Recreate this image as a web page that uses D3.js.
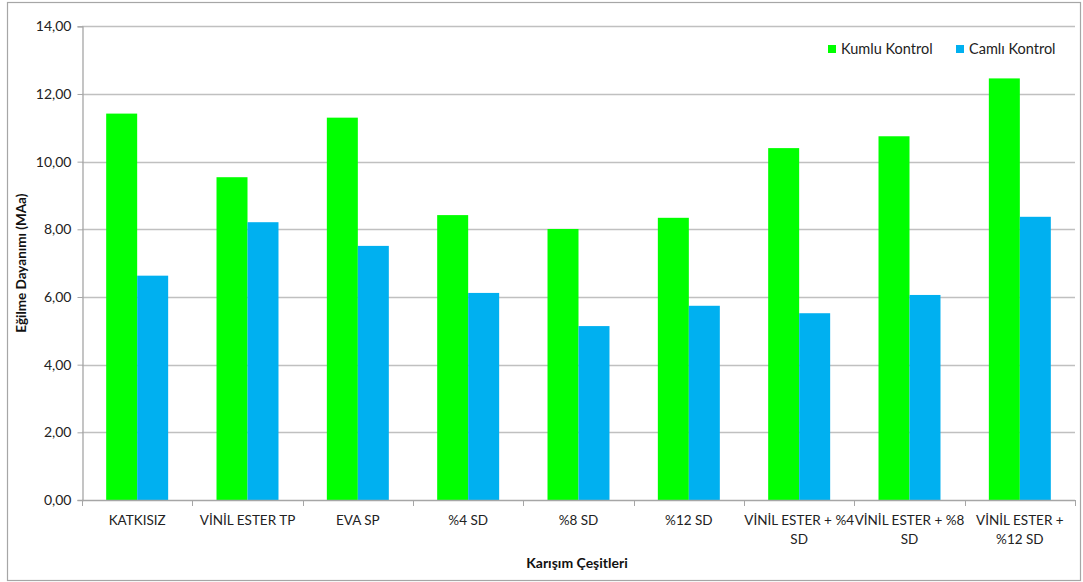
<!DOCTYPE html>
<html>
<head>
<meta charset="utf-8">
<script src="https://cdn.jsdelivr.net/npm/d3@7"></script>
<style>
  html, body { margin: 0; padding: 0; background: #fff; }
  svg { display: block; font-family: Lato, "Open Sans", sans-serif; }
</style>
</head>
<body>
<svg id="chart" width="1083" height="582"></svg>
<script>
// Mixture types (line breaks follow the wrapped axis labels)
const categories = [
  "KATKISIZ",
  "VİNİL ESTER TP",
  "EVA SP",
  "%4 SD",
  "%8 SD",
  "%12 SD",
  "VİNİL ESTER + %4\nSD",
  "VİNİL ESTER + %8\nSD",
  "VİNİL ESTER +\n%12 SD"
];
const seriesNames = ["Kumlu Kontrol", "Camlı Kontrol"];
const kumluKontrol = [11.42, 9.54, 11.30, 8.42, 8.01, 8.34, 10.40, 10.75, 12.46];
const camliKontrol = [6.63, 8.21, 7.51, 6.12, 5.14, 5.74, 5.52, 6.06, 8.37];
const yTicks = [0, 2, 4, 6, 8, 10, 12, 14];
const colors = ["#00ff00", "#00b0f0"];

const svg = d3.select("#chart");
const plot = { left: 82, right: 1075, top: 26.3, bottom: 500 };

// outer chart frame
svg.append("rect")
  .attr("x", 7.5).attr("y", 2.5)
  .attr("width", 1073).attr("height", 578)
  .attr("fill", "#fff").attr("stroke", "#a6a6a6").attr("stroke-width", 1.2);

const x = d3.scaleBand().domain(categories).range([plot.left, plot.right]).paddingInner(0).paddingOuter(0);
const x1 = d3.scaleBand().domain(seriesNames).range([0, x.bandwidth()]).paddingInner(0).paddingOuter(0.78);
const y = d3.scaleLinear().domain([0, 14]).range([plot.bottom, plot.top]);

// horizontal gridlines
svg.append("g")
  .selectAll("line")
  .data(yTicks.filter(d => d > 0))
  .join("line")
  .attr("x1", plot.left).attr("x2", plot.right)
  .attr("y1", d => Math.round(y(d)) + 0.5).attr("y2", d => Math.round(y(d)) + 0.5)
  .attr("stroke", "#c0c0c0").attr("stroke-width", 1.3);

// bars
const data = categories.map((c, i) => ({ c, vals: [kumluKontrol[i], camliKontrol[i]] }));
svg.append("g")
  .selectAll("g")
  .data(data)
  .join("g")
  .attr("transform", d => `translate(${x(d.c)},0)`)
  .selectAll("rect")
  .data(d => d.vals.map((v, j) => ({ v, s: seriesNames[j], j })))
  .join("rect")
  .attr("x", d => x1(d.s))
  .attr("width", x1.bandwidth())
  .attr("y", d => y(d.v))
  .attr("height", d => y(0) - y(d.v))
  .attr("fill", d => colors[d.j]);

// y axis
const yAxis = d3.axisLeft(y).tickValues(yTicks).tickSize(5).tickPadding(6)
  .tickFormat(d => d3.format(".2f")(d).replace(".", ","));
const gy = svg.append("g").attr("transform", `translate(${plot.left + 0.5},0)`).call(yAxis);
gy.select(".domain").attr("stroke", "#a6a6a6").attr("stroke-width", 1.3);
gy.selectAll(".tick line").attr("stroke", "#a6a6a6");
gy.selectAll(".tick text").attr("font-size", 14).attr("fill", "#222")
  .attr("font-family", "Lato, sans-serif");

// x axis: baseline with ticks at category boundaries
const gx = svg.append("g");
gx.append("line")
  .attr("x1", plot.left).attr("x2", plot.right)
  .attr("y1", plot.bottom + 0.5).attr("y2", plot.bottom + 0.5)
  .attr("stroke", "#a6a6a6").attr("stroke-width", 1.3);
const bounds = categories.map(c => x(c)).concat([x.range()[1]]);
gx.selectAll("line.tk").data(bounds).join("line").attr("class", "tk")
  .attr("x1", d => Math.round(d) + 0.5).attr("x2", d => Math.round(d) + 0.5)
  .attr("y1", plot.bottom).attr("y2", plot.bottom + 6)
  .attr("stroke", "#a6a6a6").attr("stroke-width", 1);

// category labels
gx.selectAll("text.cat").data(categories).join("text").attr("class", "cat")
  .attr("text-anchor", "middle")
  .attr("font-size", 13.5).attr("fill", "#222")
  .each(function (d) {
    const t = d3.select(this);
    d.split("\n").forEach((line, i) => {
      t.append("tspan")
        .attr("x", x(d) + x.bandwidth() / 2)
        .attr("y", 525 + i * 19)
        .text(line);
    });
  });

// axis titles
svg.append("text")
  .attr("x", 577).attr("y", 568)
  .attr("text-anchor", "middle").attr("font-size", 14).attr("font-weight", "bold").attr("fill", "#111")
  .text("Karışım Çeşitleri");
svg.append("text")
  .attr("transform", `translate(26,${(plot.top + plot.bottom) / 2}) rotate(-90)`)
  .attr("text-anchor", "middle").attr("font-size", 13.5).attr("font-weight", "bold").attr("fill", "#111")
  .text("Eğilme Dayanımı (MAa)");

// legend
const legendX = [828, 956];
const lg = svg.append("g").selectAll("g").data(seriesNames).join("g")
  .attr("transform", (d, i) => `translate(${legendX[i]},45)`);
lg.append("rect").attr("width", 8).attr("height", 8).attr("fill", (d, i) => colors[i]);
lg.append("text").attr("x", 13).attr("y", 9)
  .attr("font-size", 14.5).attr("fill", "#222").text(d => d);
</script>
</body>
</html>
